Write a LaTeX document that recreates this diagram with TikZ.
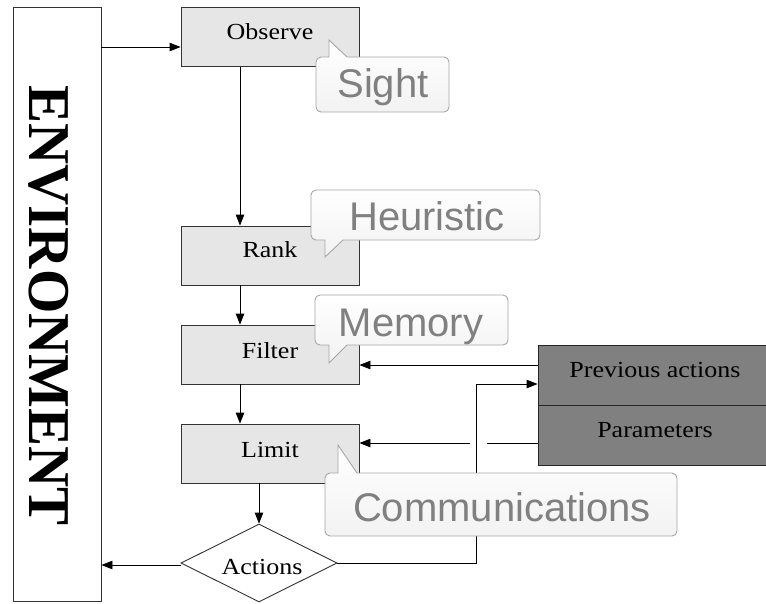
\documentclass[tikz,border=0pt]{standalone}
\usepackage{fontspec}
\setmainfont{Liberation Serif}
\newfontfamily\boxfont{Liberation Serif}[FakeStretch=1.13]
\newfontfamily\tagfont{Liberation Sans}
\usetikzlibrary{arrows.meta,shapes.geometric}

\definecolor{stagefill}{HTML}{E6E6E6}
\definecolor{storefill}{HTML}{808080}
\definecolor{tagline}{HTML}{A6A6A6}
\definecolor{taggray}{HTML}{808080}

\tikzset{
  stage/.style={draw=black!80, fill=stagefill, line width=0.9pt,
    minimum width=178pt, minimum height=59pt, inner sep=0pt},
  stagelabel/.style={font=\boxfont\fontsize{23}{23}\selectfont, anchor=base, inner sep=0pt},
  store/.style={draw=black!85, fill=storefill, line width=0.9pt,
    minimum width=228pt, minimum height=60pt, inner sep=0pt},
  link/.style={line width=0.9pt, draw=black},
  arrow/.style={link, -{Triangle[length=11pt,width=8.5pt]}},
  tag/.style={draw=tagline, line width=0.9pt, top color=white, bottom color=black!5},
  tagtext/.style={font=\tagfont\fontsize{40}{40}\selectfont, text=taggray, anchor=base, inner sep=0pt},
}

% speech-bubble outline, tail on the top edge
% #1,#2 top-left  #3,#4 bottom-right  #5 tail x  #6 tip y  #7 tail base width
\newcommand{\bubbleup}[7]{%
  \path[tag] (#5,#2) -- (#5,#6) -- ({#5+#7},#2) -- ({#3-5},#2)
    arc[start angle=-90,end angle=0,radius=5] -- (#3,{#4-5})
    arc[start angle=0,end angle=90,radius=5] -- ({#1+5},#4)
    arc[start angle=90,end angle=180,radius=5] -- (#1,{#2+5})
    arc[start angle=180,end angle=270,radius=5] -- cycle;}
% speech-bubble outline, tail on the bottom edge
\newcommand{\bubbledown}[7]{%
  \path[tag] (#1,{#2+5}) arc[start angle=180,end angle=270,radius=5]
    -- ({#3-5},#2) arc[start angle=-90,end angle=0,radius=5]
    -- (#3,{#4-5}) arc[start angle=0,end angle=90,radius=5]
    -- ({#5+#7},#4) -- (#5,#6) -- (#5,#4)
    -- ({#1+5},#4) arc[start angle=90,end angle=180,radius=5] -- cycle;}

\begin{document}
\begin{tikzpicture}[x=1pt,y=-1pt]
\useasboundingbox[fill=white] (0,0) rectangle (766,603);

% environment column
\node[draw=black!80, fill=white, line width=0.9pt, minimum width=88pt,
      minimum height=594pt, inner sep=0pt] (env) at (57,304) {};
\node[rotate=-90, inner sep=0pt, font=\bfseries\fontsize{57}{57}\selectfont]
      (envtext) at (48.5,305.5) {\scalebox{1}[1.04]{ENVIRONMENT}};

% processing stages
\node[stage] (observe) at (270,37) {};
\node[stage] (rank)    at (270,255.5) {};
\node[stage] (filter)  at (270,354.5) {};
\node[stage] (limit)   at (270,453.5) {};
\node[stagelabel] (observetext) at (270,39.6) {Observe};
\node[stagelabel] (ranktext)    at (270,257.6) {Rank};
\node[stagelabel] (filtertext)  at (270,358) {Filter};
\node[stagelabel] (limittext)   at (270,457) {Limit};

\node[diamond, draw=black!80, fill=white, line width=0.9pt, inner sep=0pt,
      minimum width=156pt, minimum height=78pt] (actions) at (259,563) {};
\node[stagelabel] (actionstext) at (262,574) {Actions};

% stored data
\node[store] (prev)   at (652,375) {};
\node[store] (params) at (652,435) {};
\node[stagelabel] (prevtext)   at (655,377.6) {Previous actions};
\node[stagelabel] (paramstext) at (655,437.6) {Parameters};

% flow
\coordinate (loop) at (476,384);
\coordinate (gapR) at (487,443);
\coordinate (gapL) at (470,443);

\draw[arrow] ([yshift=-10pt]observe.west -| env.east) -- ([yshift=-10pt]observe.west);
\draw[arrow] ([xshift=-30pt]observe.south) -- ([xshift=-30pt]rank.north);
\draw[arrow] ([xshift=-30pt]rank.south) -- ([xshift=-30pt]filter.north);
\draw[arrow] ([xshift=-30pt]filter.south) -- ([xshift=-30pt]limit.north);
\draw[arrow] (limit.south -| actions.north) -- (actions.north);
\draw[arrow] ([yshift=-2pt]actions.west) -- ([yshift=-2pt]actions.west -| env.east);
\draw[arrow] (actions.east) -| (loop) -- (loop -| prev.west);
\draw[arrow] ([yshift=10pt]prev.west) -- ([yshift=10pt]prev.west -| filter.east);
\draw[link] (params.west |- gapR) -- (gapR);
\draw[arrow] (gapL) -- (gapL -| limit.east);

% annotation bubbles
\bubbleup{316}{57}{449}{112}{329}{40}{18}
\node[tagtext] (sight) at (383,97.5) {Sight};
\bubbledown{311}{190}{540}{240}{325}{257}{18}
\node[tagtext] (heuristic) at (427,230) {Heuristic};
\bubbledown{315}{295}{508}{345}{329}{363}{18}
\node[tagtext] (memory) at (411,336) {Memory};
\bubbleup{325}{473}{677}{536}{338}{445}{19}
\node[tagtext] (comms) at (502,521) {Communications};
\end{tikzpicture}
\end{document}
